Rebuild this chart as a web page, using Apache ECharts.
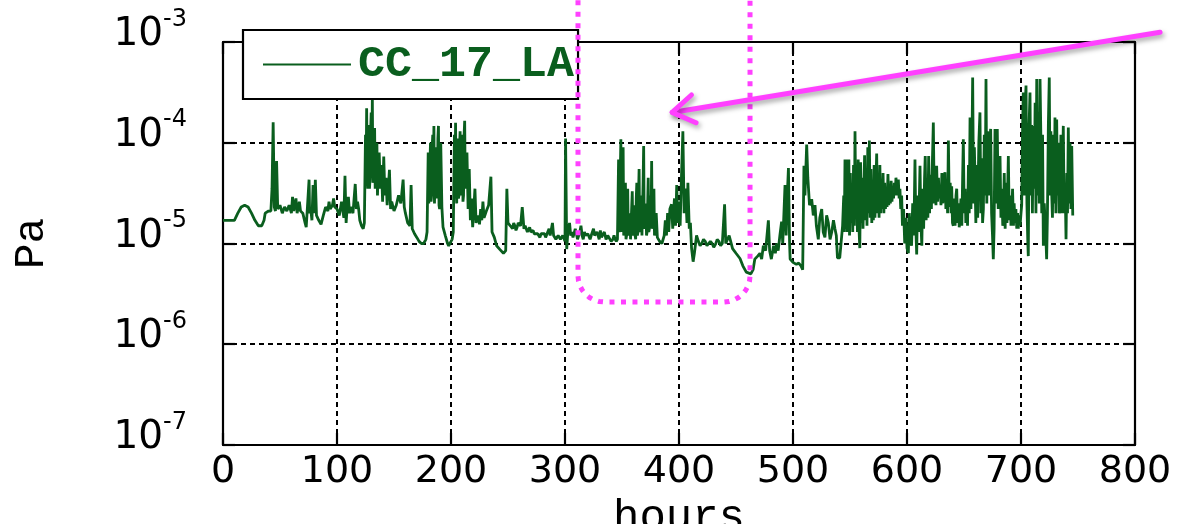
<!DOCTYPE html>
<html>
<head>
<meta charset="utf-8">
<script src="https://cdn.jsdelivr.net/npm/echarts@6/dist/echarts.min.js"></script>
<style>
  html, body { margin: 0; padding: 0; background: #fff; }
  #chart { width: 1182px; height: 524px; }
</style>
</head>
<body>
<div id="chart"></div>
<script>
  // [hours, Pa], split by 100 h blocks
  var pa000 = [[0, 1.7e-5], [10, 1.7e-5], [13, 2.0e-5], [16, 2.3e-5], [19, 2.4e-5], [22, 2.3e-5], [25, 2.0e-5], [28, 1.7e-5], [31, 1.5e-5], [34, 1.5e-5], [36, 1.7e-5], [37, 2.0e-5], [40, 2.1e-5], [42, 2.1e-5], [43, 3.5e-5], [44, 1.6e-4], [45, 2.3e-5], [46, 2.1e-5], [47, 6.6e-5], [48, 2.2e-5], [50, 2.4e-5], [52, 2.0e-5], [54, 2.3e-5], [56, 2.1e-5], [58, 2.4e-5], [60, 2.0e-5], [61, 2.9e-5], [62, 2.1e-5], [64, 2.8e-5], [65, 2.0e-5], [67, 2.6e-5], [68, 2.1e-5], [70, 2.0e-5], [72, 1.6e-5], [73, 1.45e-5], [74, 1.5e-5], [75.5, 4.3e-5], [76, 2.0e-5], [77, 2.2e-5], [78, 1.7e-5], [79, 3.8e-5], [80, 2.0e-5], [81, 4.3e-5], [82, 1.9e-5], [84, 1.7e-5], [86, 1.55e-5], [88, 1.9e-5], [90, 2.3e-5], [92, 2.1e-5], [93, 2.6e-5], [94, 2.2e-5], [96, 2.4e-5], [97, 2.8e-5], [98, 2.3e-5], [100, 2.2e-5]];
  var pa100 = [[101, 2.3e-5], [102, 1.9e-5], [104, 2.6e-5], [106, 1.8e-5], [107, 4.7e-5], [108, 1.6e-5], [109, 2.4e-5], [110, 2.9e-5], [111, 2.0e-5], [112, 2.3e-5], [114, 2.0e-5], [116, 3.9e-5], [117, 2.2e-5], [118, 2.6e-5], [119, 2.2e-5], [120, 1.7e-5], [121.5, 1.5e-5], [123, 1.4e-5], [124, 1.6e-5], [125, 1.2e-4], [125.5, 4.0e-5], [126, 2.2e-4], [126.5, 5.0e-5], [127, 3.5e-5], [127.5, 1.1e-4], [128, 1.5e-4], [128.5, 3.5e-5], [129, 4.5e-5], [129.5, 1.3e-4], [130, 2.0e-4], [130.5, 5.0e-5], [131, 2.8e-4], [131.5, 4.0e-5], [132, 6.0e-5], [132.5, 1.1e-4], [133, 1.4e-4], [133.5, 3.5e-5], [134, 4.0e-5], [134.5, 9.0e-5], [135, 1.0e-4], [135.5, 3.0e-5], [136, 3.0e-5], [136.5, 7.0e-5], [137, 8.0e-5], [138, 3.5e-5], [139, 6.0e-5], [140, 2.6e-5], [141, 7.3e-5], [142, 3.0e-5], [143, 4.5e-5], [144, 2.4e-5], [145, 3.5e-5], [146, 5.4e-5], [147, 2.2e-5], [148, 2.6e-5], [150, 2.1e-5], [152, 2.4e-5], [154, 3.0e-5], [156, 2.5e-5], [158, 4.3e-5], [159, 2.3e-5], [160, 2.0e-5], [162, 1.6e-5], [164, 1.5e-5], [165, 3.8e-5], [166, 1.4e-5], [168, 1.25e-5], [170, 1.15e-5], [172, 1.05e-5], [174, 1.0e-5], [176, 1.0e-5], [178, 1.1e-5], [179, 1.3e-5], [180, 8.0e-5], [180.5, 2.5e-5], [181, 2.5e-5], [181.5, 6.0e-5], [182, 1.0e-4], [182.5, 2.6e-5], [183, 3.0e-5], [183.5, 9.0e-5], [184, 1.2e-4], [184.5, 3.0e-5], [185, 1.47e-4], [185.5, 2.5e-5], [186, 2.5e-5], [186.5, 7.0e-5], [187, 9.0e-5], [187.5, 2.8e-5], [188, 3.5e-5], [188.5, 1.1e-4], [189, 1.47e-4], [189.5, 2.4e-5], [190, 2.2e-5], [190.5, 8.0e-5], [191, 1.0e-4], [192, 2.3e-5], [193, 1.45e-5], [195, 1.2e-5], [197, 1.0e-5], [198, 0.95e-5], [200, 1.05e-5]];
  var pa200 = [[201, 1.1e-5], [202, 1.3e-5], [203, 1.2e-4], [203.5, 3.0e-5], [204, 1.58e-4], [204.5, 3.5e-5], [205, 2.5e-5], [205.5, 8.0e-5], [206, 1.1e-4], [206.5, 2.8e-5], [207, 3.0e-5], [207.5, 9.0e-5], [208, 1.3e-4], [208.5, 3.0e-5], [209, 4.0e-5], [209.5, 1.0e-4], [210, 1.2e-4], [210.5, 2.6e-5], [211, 3.0e-5], [211.5, 1.2e-4], [212, 1.65e-4], [212.5, 3.5e-5], [213, 5.0e-5], [214, 8.0e-5], [215, 2.2e-5], [216, 5.5e-5], [217, 1.7e-5], [218, 2.8e-5], [219, 1.45e-5], [220, 2.2e-5], [221, 3.5e-5], [222, 1.6e-5], [224, 1.9e-5], [225, 1.55e-5], [226, 2.2e-5], [227, 1.7e-5], [228, 2.6e-5], [229, 1.8e-5], [231, 2.1e-5], [233, 2.4e-5], [235, 4.6e-5], [236, 1.3e-5], [238, 1.15e-5], [240, 0.95e-5], [243, 0.87e-5], [246, 0.8e-5], [248, 0.85e-5], [249, 3.5e-5], [250, 1.6e-5], [252, 1.5e-5], [254, 1.4e-5], [255, 1.6e-5], [256, 1.5e-5], [257, 1.35e-5], [258, 1.45e-5], [259, 1.6e-5], [261, 1.5e-5], [262.5, 2.3e-5], [264, 1.4e-5], [265, 1.5e-5], [266, 1.4e-5], [267, 1.3e-5], [268, 1.35e-5], [269, 1.45e-5], [270, 1.3e-5], [271, 1.25e-5], [272, 1.35e-5], [273, 1.25e-5], [274, 1.3e-5], [276, 1.25e-5], [278, 1.15e-5], [279, 1.25e-5], [280, 1.2e-5], [282, 1.25e-5], [283, 1.15e-5], [284, 1.2e-5], [286, 1.4e-5], [287, 1.2e-5], [289, 1.6e-5], [290, 1.2e-5], [292, 1.1e-5], [294, 1.2e-5], [296, 1.1e-5], [298, 1.2e-5], [300, 1.05e-5]];
  var pa300 = [[300.5, 1.1e-4], [301.5, 0.88e-5], [302.5, 1.3e-5], [304, 1.6e-5], [305, 1.2e-5], [306, 1.3e-5], [307, 1.15e-5], [308, 1.2e-5], [309, 1.4e-5], [310, 1.25e-5], [311, 1.1e-5], [312, 1.2e-5], [313, 1.3e-5], [314, 1.5e-5], [315, 1.2e-5], [316, 1.1e-5], [317, 1.3e-5], [318, 1.2e-5], [319, 1.15e-5], [320, 1.25e-5], [321, 1.3e-5], [322, 1.1e-5], [323, 1.2e-5], [324, 1.15e-5], [325, 1.4e-5], [326, 1.2e-5], [327, 1.15e-5], [328, 1.3e-5], [329, 1.2e-5], [330, 1.1e-5], [331, 1.35e-5], [332, 1.15e-5], [333, 1.2e-5], [334.5, 1.3e-5], [336, 1.1e-5], [337.5, 1.2e-5], [339, 1.15e-5], [340.5, 1.05e-5], [342, 1.1e-5], [343, 1.2e-5], [344, 1.1e-5], [345, 1.05e-5], [346, 1.1e-5], [347, 6.8e-5], [347.5, 1.3e-5], [348, 1.5e-5], [348.5, 5.0e-5], [349, 1.08e-4], [349.5, 1.3e-5], [350, 2.0e-5], [350.5, 6.0e-5], [351, 9.0e-5], [351.5, 1.2e-5], [352, 1.4e-5], [352.5, 3.0e-5], [353, 4.0e-5], [353.5, 1.1e-5], [354, 1.2e-5], [354.5, 2.5e-5], [355, 3.5e-5], [355.5, 1.2e-5], [356, 1.4e-5], [357, 2.0e-5], [357.5, 1.1e-5], [358, 1.15e-5], [359, 3.3e-5], [359.5, 1.3e-5], [360, 1.2e-5], [361, 2.4e-5], [361.5, 1.2e-5], [362, 1.1e-5], [362.5, 2.8e-5], [363, 4.0e-5], [363.5, 1.2e-5], [364, 1.3e-5], [364.5, 3.0e-5], [365, 5.5e-5], [365.5, 1.3e-5], [366, 1.5e-5], [367, 3.0e-5], [367.5, 1.2e-5], [368, 1.2e-5], [368.5, 4.0e-5], [369, 9.3e-5], [369.5, 1.4e-5], [370, 1.6e-5], [371, 2.5e-5], [371.5, 1.2e-5], [372, 1.3e-5], [373, 4.5e-5], [373.5, 1.3e-5], [374, 1.4e-5], [375, 3.0e-5], [375.5, 1.5e-5], [376, 6.6e-5], [376.5, 1.4e-5], [377, 1.6e-5], [378, 3.5e-5], [378.5, 1.2e-5], [379, 1.3e-5], [380, 2.0e-5], [381, 1.15e-5], [383, 1.05e-5], [385, 1.0e-5], [387, 1.2e-5], [388, 1.7e-5], [389, 1.2e-5], [390, 2.0e-5], [391, 1.3e-5], [392, 2.2e-5], [393.5, 2.45e-5], [394.5, 1.4e-5], [396, 2.8e-5], [397, 1.5e-5], [398, 3.8e-5], [399, 1.6e-5], [400, 2.6e-5]];
  var pa400 = [[401, 1.5e-5], [402, 4.0e-5], [403.4, 1.3e-4], [404.5, 2.0e-5], [405.7, 3.5e-5], [407, 1.6e-5], [407.8, 4.0e-5], [409, 1.4e-5], [410, 1.6e-5], [411, 0.9e-5], [412.4, 0.66e-5], [413.5, 0.8e-5], [415.4, 1.2e-5], [417, 1.05e-5], [418.5, 0.95e-5], [420, 1.0e-5], [421.5, 1.1e-5], [423, 1.05e-5], [424.5, 0.95e-5], [426, 0.95e-5], [427.5, 1.05e-5], [429, 1.0e-5], [430.5, 0.92e-5], [432, 0.98e-5], [433.5, 1.1e-5], [435, 1.05e-5], [436.5, 0.95e-5], [438, 1.0e-5], [440, 2.45e-5], [441, 1.0e-5], [444, 1.2e-5], [447, 0.89e-5], [450, 0.8e-5], [453.5, 0.71e-5], [456, 0.6e-5], [459, 0.52e-5], [463, 0.5e-5], [465, 0.55e-5], [466.5, 0.7e-5], [469, 0.75e-5], [471, 0.8e-5], [472.5, 0.7e-5], [474, 0.95e-5], [476, 0.85e-5], [478.4, 1.7e-5], [479.5, 0.85e-5], [481, 0.7e-5], [483, 0.95e-5], [484.5, 0.8e-5], [485.7, 1.0e-5], [487, 0.85e-5], [488.5, 1.2e-5], [490, 1.65e-5], [491, 1.0e-5], [493, 3.8e-5], [494, 1.2e-5], [495, 3.0e-5], [496, 5.6e-5], [497, 1.0e-5], [497.5, 0.7e-5], [500, 0.65e-5]];
  var pa500 = [[501, 0.63e-5], [503, 0.62e-5], [505, 0.64e-5], [507, 0.6e-5], [508.5, 0.55e-5], [509.6, 5.9e-5], [510.5, 3.0e-5], [512, 9.6e-5], [513, 4.5e-5], [514.5, 2.4e-5], [516.4, 2.75e-5], [517.8, 1.9e-5], [519.3, 2.4e-5], [520.5, 1.5e-5], [522.2, 1.1e-5], [523.5, 1.8e-5], [525.2, 2.2e-5], [526.5, 1.3e-5], [528, 1.15e-5], [529.5, 1.9e-5], [531, 1.6e-5], [532.5, 1.1e-5], [534, 1.3e-5], [535.5, 1.7e-5], [536.8, 1.4e-5], [538, 1.2e-5], [539, 0.72e-5], [541, 0.72e-5], [542.7, 0.73e-5], [543.5, 1.5e-5], [544.5, 3.0e-5], [545, 1.3e-5], [545.6, 6.8e-5], [546, 1.4e-5], [547, 6.8e-5], [547.6, 1.3e-5], [548.3, 4.0e-5], [549, 6.8e-5], [549.6, 1.2e-5], [550.3, 5.0e-5], [551, 1.6e-5], [551.7, 3.5e-5], [552.4, 1.3e-5], [553.1, 6.0e-5], [553.8, 1.5e-5], [554.4, 1.3e-4], [555.1, 1.8e-5], [555.8, 4.0e-5], [556.5, 1.3e-5], [557.2, 6.8e-5], [557.9, 1.4e-5], [558.6, 0.9e-5], [559.3, 6.4e-5], [560, 1.6e-5], [560.7, 4.5e-5], [561.4, 1.4e-5], [562.1, 3.0e-5], [562.8, 7.5e-5], [563.5, 1.7e-5], [564.2, 5.0e-5], [564.9, 1.5e-5], [565.6, 9.0e-5], [566.3, 2.0e-5], [567, 1.05e-4], [567.7, 1.8e-5], [568.4, 5.5e-5], [569.1, 1.6e-5], [569.8, 4.0e-5], [570.5, 1.7e-5], [571.2, 6.0e-5], [571.9, 1.8e-5], [572.6, 3.5e-5], [573.4, 7.8e-5], [574.1, 2.0e-5], [574.8, 4.5e-5], [575.5, 1.8e-5], [576.2, 6.0e-5], [576.9, 2.0e-5], [577.6, 3.8e-5], [578.3, 2.2e-5], [579, 5.0e-5], [579.7, 2.0e-5], [580.4, 4.0e-5], [581.1, 2.2e-5], [581.8, 3.5e-5], [582.5, 2.3e-5], [583.3, 4.9e-5], [584, 2.4e-5], [584.7, 3.8e-5], [585.4, 2.5e-5], [586.1, 4.2e-5], [586.8, 2.6e-5], [587.5, 3.5e-5], [588.2, 2.8e-5], [588.9, 4.0e-5], [589.6, 3.0e-5], [590.3, 4.5e-5], [591, 4.7e-5], [591.7, 3.0e-5], [592.4, 4.3e-5], [593.1, 2.8e-5], [593.8, 3.5e-5], [594.5, 2.2e-5], [595.3, 3.0e-5], [596, 1.5e-5], [597, 2.2e-5], [598, 1.0e-5], [599, 1.8e-5], [600, 0.9e-5]];
  var pa600 = [[601.2, 0.8e-5], [602, 2.0e-5], [603, 1.2e-5], [604, 0.95e-5], [605, 2.5e-5], [606, 1.2e-5], [607, 6.8e-5], [607.7, 1.5e-5], [608.5, 0.78e-5], [609.3, 3.0e-5], [610.2, 1.3e-5], [611.4, 5.9e-5], [612.2, 1.6e-5], [613, 0.95e-5], [613.8, 3.5e-5], [614.6, 1.4e-5], [615.4, 4.5e-5], [616, 7.4e-5], [616.8, 1.7e-5], [617.6, 4.0e-5], [618.3, 1.8e-5], [619, 7.4e-5], [619.8, 2.0e-5], [620.6, 4.8e-5], [621.4, 2.2e-5], [622.2, 6.0e-5], [623.1, 1.59e-4], [623.9, 2.5e-5], [624.7, 5.5e-5], [625.4, 2.4e-5], [626, 5.9e-5], [626.8, 2.6e-5], [627.6, 4.5e-5], [628.3, 2.8e-5], [629, 3.7e-5], [629.8, 2.4e-5], [630.6, 5.0e-5], [631.4, 2.5e-5], [632.2, 4.2e-5], [633.3, 5.1e-5], [634.1, 2.2e-5], [634.9, 3.8e-5], [635.6, 2.0e-5], [636.3, 1.05e-4], [637.1, 2.3e-5], [637.9, 4.0e-5], [638.6, 2.0e-5], [639.2, 3.7e-5], [639.9, 1.6e-5], [640.6, 1.5e-5], [641.4, 2.8e-5], [642.2, 1.5e-5], [643, 3.0e-5], [643.6, 3.5e-5], [644.4, 1.6e-5], [645.2, 2.5e-5], [645.8, 1.45e-5], [646.5, 1.74e-5], [647.3, 2.8e-5], [648.1, 1.5e-5], [648.8, 4.5e-5], [649.4, 1.08e-4], [650.2, 2.0e-5], [651, 3.5e-5], [651.6, 1.6e-5], [652.3, 3.2e-5], [653.1, 1.5e-5], [653.9, 6.0e-5], [654.6, 2.0e-5], [655.3, 1.78e-4], [656.1, 2.2e-5], [656.9, 8.0e-5], [657.6, 4.45e-4], [658.4, 2.5e-5], [659.1, 9.0e-5], [659.6, 4.7e-5], [660.4, 1.6e-5], [661.2, 6.0e-5], [662, 1.8e-5], [663, 1.0e-4], [664, 2.0e-4], [664.8, 2.0e-5], [665.6, 7.0e-5], [666.3, 1.6e-5], [667, 2.2e-5], [667.8, 1.2e-4], [668.6, 3.0e-5], [669.3, 4.3e-4], [670, 2.5e-5], [670.6, 1.3e-4], [671.3, 1.0e-4], [672, 3.0e-5], [672.7, 1.1e-4], [673.4, 1.37e-4], [674.2, 2.0e-5], [675, 1.2e-5], [675.7, 0.7e-5], [676.4, 1.4e-5], [677.2, 1.37e-4], [678, 2.5e-5], [678.6, 8.0e-5], [679.2, 1.37e-4], [680, 2.2e-5], [680.8, 4.5e-5], [681.6, 7.4e-5], [682.4, 1.8e-5], [683.2, 3.5e-5], [684, 1.5e-5], [684.5, 1.6e-5], [685.3, 5.0e-5], [686.1, 1.4e-5], [686.9, 4.0e-5], [687.7, 1.6e-5], [688.9, 7.4e-5], [689.7, 1.7e-5], [690.5, 3.0e-5], [691.2, 1.5e-5], [691.8, 1.9e-5], [692.6, 3.5e-5], [693.4, 1.5e-5], [694, 2.5e-5], [694.7, 1.6e-5], [695.5, 2.2e-5], [696.3, 1.4e-5], [697, 2.0e-5], [697.6, 1.4e-5], [698.4, 1.9e-5], [699.2, 1.5e-5], [700, 2.0e-5]];
  var pa700 = [[700.6, 2.4e-5], [701.3, 1.2e-4], [702, 3.15e-4], [702.7, 3.0e-5], [703.5, 2.0e-4], [704.4, 3.7e-4], [705.2, 2.5e-5], [706, 1.0e-5], [706.4, 0.75e-5], [707.1, 1.5e-4], [707.9, 3.15e-4], [708.6, 3.0e-5], [709.3, 1.5e-4], [710, 2.0e-5], [710.8, 1.47e-4], [711.6, 3.5e-5], [712.4, 2.5e-4], [713.1, 2.0e-5], [713.8, 4.3e-4], [714.6, 3.0e-5], [715.4, 2.0e-4], [716, 2.5e-5], [716.7, 4.3e-4], [717.5, 1.0e-4], [718.2, 2.0e-5], [718.9, 1.2e-4], [719.6, 0.95e-5], [720.4, 2.5e-5], [721.2, 1.6e-5], [722, 1.0e-5], [722.5, 0.7e-5], [723.2, 2.0e-5], [724, 1.5e-4], [724.8, 4.45e-4], [725.5, 3.0e-5], [726.2, 1.3e-4], [726.9, 3.2e-5], [727.6, 1.8e-5], [728.4, 1.2e-4], [729.1, 2.5e-5], [729.8, 1.78e-4], [730.6, 2.0e-5], [731.3, 1.7e-4], [732, 3.0e-5], [732.7, 1.0e-4], [733.5, 2.0e-5], [734.2, 2.2e-5], [735, 1.2e-4], [735.7, 2.0e-5], [736.4, 4.5e-5], [737.1, 1.47e-4], [737.9, 2.0e-5], [738.7, 4.0e-5], [739.5, 1.1e-5], [740.2, 5.0e-5], [740.8, 2.0e-5], [741.5, 1.42e-4], [742.3, 2.5e-5], [743, 1.0e-4], [743.8, 2.2e-5], [744.5, 9.3e-5], [745.4, 1.9e-5]];

  var seriesName = 'CC_17_LA';
  var xName = 'hours';
  var yName = 'Pa';

  // annotation anchors in data space [hours, Pa]
  var boxLeft = 311.4, boxRight = 462.3, boxBottom = 2.63e-6, boxTop = 2.6e-3;
  var arrowTail = [822, 1.25e-3];
  var arrowTip = [394, 2.0e-4];

  var magenta = '#ff40ff';
  var green = '#0a5e1e';
  var mono = '"Liberation Mono", "Courier New", monospace';

  var chart = echarts.init(document.getElementById('chart'));

  var axisCommon = {
    axisLine: {show: true, onZero: false, lineStyle: {color: '#000', width: 2.2}},
    axisTick: {show: true, inside: true, length: 12, lineStyle: {color: '#000', width: 2.2}}
  };
  var gridLine = {show: true, lineStyle: {color: '#000', width: 2, type: [5, 4]}};

  chart.setOption({
    animation: false,
    backgroundColor: '#fff',
    grid: {left: 223, right: 47, top: 42, bottom: 79, containLabel: false, outerBoundsMode: 'none'},
    legend: {
      left: 243, top: 30,
      padding: [12, 4, 12, 20],
      backgroundColor: '#fff',
      borderColor: '#000',
      borderWidth: 2.2,
      borderRadius: 0,
      itemWidth: 88,
      itemHeight: 2,
      itemGap: 0,
      selectedMode: false,
      data: [{name: seriesName, icon: 'rect'}],
      textStyle: {
        fontFamily: mono,
        fontWeight: 'bold',
        fontSize: 45,
        color: green,
        padding: [0, 0, 0, 2]
      }
    },
    xAxis: [
      Object.assign({
        type: 'value', min: 0, max: 800, interval: 100,
        name: xName, nameLocation: 'middle', nameGap: 45,
        nameTextStyle: {fontFamily: mono, fontSize: 44, color: '#000'},
        axisLabel: {fontFamily: '"DejaVu Sans"', fontSize: 38, color: '#000', margin: 8},
        splitLine: gridLine
      }, axisCommon),
      Object.assign({
        type: 'value', min: 0, max: 800, interval: 100, position: 'top',
        axisLabel: {show: false}, splitLine: {show: false}
      }, axisCommon)
    ],
    yAxis: [
      Object.assign({
        type: 'log', logBase: 10, min: 1e-7, max: 1e-3, interval: 1,
        name: yName, nameLocation: 'middle', nameRotate: 90, nameGap: 170,
        nameTextStyle: {fontFamily: mono, fontSize: 43, color: '#000'},
        axisLabel: {
          margin: 36,
          formatter: function (v) {
            return '{b|10}{e|' + Math.round(Math.log10(v)) + '}';
          },
          rich: {
            b: {fontFamily: '"DejaVu Sans"', fontSize: 39, color: '#000', verticalAlign: 'bottom', padding: [8, 0, 22, 0]},
            e: {fontFamily: '"DejaVu Sans"', fontSize: 24, color: '#000', verticalAlign: 'top'}
          }
        },
        minorTick: {show: false},
        splitLine: gridLine
      }, axisCommon),
      Object.assign({
        type: 'log', logBase: 10, min: 1e-7, max: 1e-3, interval: 1, position: 'right',
        axisLabel: {show: false}, splitLine: {show: false}
      }, axisCommon)
    ],
    series: [{
      name: seriesName,
      type: 'line',
      xAxisIndex: 0,
      yAxisIndex: 0,
      symbol: 'none',
      showSymbol: false,
      silent: true,
      lineStyle: {color: green, width: 2.8},
      itemStyle: {color: green},
      data: [].concat(pa000, pa100, pa200, pa300, pa400, pa500, pa600, pa700)
    }]
  });

  // magenta annotations placed from data-space anchors
  var px = function (p) { return chart.convertToPixel({seriesIndex: 0}, p); };
  var bl = px([boxLeft, boxBottom]), br = px([boxRight, boxBottom]);
  var tl = px([boxLeft, boxTop]), tr = px([boxRight, boxTop]);
  var r = 26;
  var boxPts = [tl];
  var i, a;
  for (i = 0; i <= 8; i++) {
    a = Math.PI - i * Math.PI / 16;
    boxPts.push([bl[0] + r + r * Math.cos(a), bl[1] - r + r * Math.sin(Math.PI - a)]);
  }
  for (i = 0; i <= 8; i++) {
    a = Math.PI / 2 - i * Math.PI / 16;
    boxPts.push([br[0] - r + r * Math.cos(a), br[1] - r + r * Math.sin(a)]);
  }
  boxPts.push(tr);

  var tail = px(arrowTail), tip = px(arrowTip);
  var ang = Math.atan2(tail[1] - tip[1], tail[0] - tip[0]);
  var barb = 26, spread = Math.PI / 5.5;
  var b1 = [tip[0] + barb * Math.cos(ang - spread), tip[1] + barb * Math.sin(ang - spread)];
  var b2 = [tip[0] + barb * Math.cos(ang + spread), tip[1] + barb * Math.sin(ang + spread)];
  var shadow = {shadowColor: 'rgba(0,0,0,0.35)', shadowBlur: 5, shadowOffsetX: 2, shadowOffsetY: 3};

  chart.setOption({
    graphic: [
      {
        type: 'polyline', z: 100, silent: true,
        shape: {points: boxPts},
        style: {fill: null, stroke: magenta, lineWidth: 5, lineDash: [5, 6.5]}
      },
      {
        type: 'polyline', z: 100, silent: true,
        shape: {points: [tail, tip]},
        style: Object.assign({stroke: magenta, lineWidth: 5, lineCap: 'round', fill: null}, shadow)
      },
      {
        type: 'polyline', z: 100, silent: true,
        shape: {points: [b1, tip, b2]},
        style: Object.assign({stroke: magenta, lineWidth: 5, lineCap: 'round', lineJoin: 'round', fill: null}, shadow)
      }
    ]
  });
</script>
</body>
</html>
